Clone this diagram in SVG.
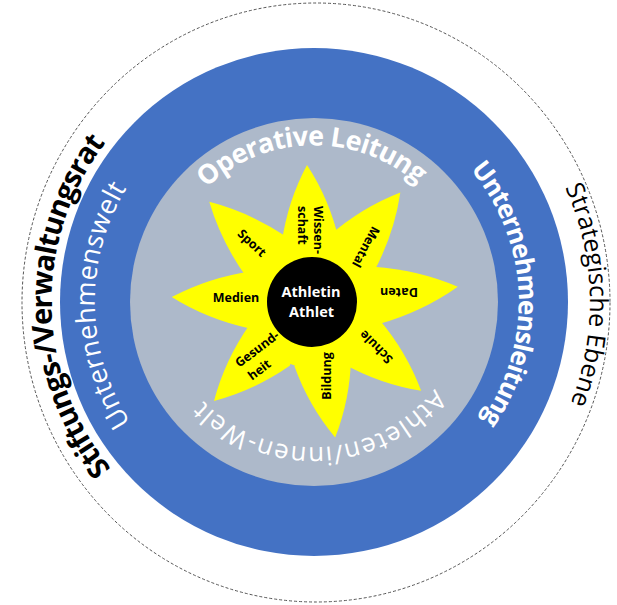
<svg xmlns="http://www.w3.org/2000/svg" xmlns:xlink="http://www.w3.org/1999/xlink" width="617" height="605" viewBox="0 0 617 605">
<style>
.ring{font-family:"Open Sans","Liberation Sans",sans-serif}
.wb{fill:#fff;font-weight:700}
.wr{fill:#fff;font-weight:400}
.lbl{font-family:"Open Sans","Liberation Sans",sans-serif;font-size:12.5px;font-weight:700;fill:#000}
.ctr{font-family:"Open Sans","Liberation Sans",sans-serif;font-size:14.5px;font-weight:700;fill:#fff}
</style>
<defs>
<path id="pOp" d="M157.4,291.0 A157,157 0 0 1 470.1,285.6"/>
<path id="pAt" d="M466.9,307.3 A154,154 0 0 1 162.5,323.3"/>
<path id="pUl" d="M322.9,97.2 A205,205 0 0 1 340.8,505.2"/>
<path id="pUw" d="M298.7,520.5 A219,219 0 0 1 291.1,84.2"/>
<path id="pSt" d="M295.7,563.4 A262,262 0 0 1 286.6,41.4"/>
<path id="pSe" d="M330.9,26.5 A276,276 0 0 1 345.2,576.2"/>
<path id="petal" d="M0,0 L-28.7,-61.6 Q-21,-104 0,-140 Q21,-104 28.7,-61.6 Z"/>
</defs>
<rect width="617" height="605" fill="#fff"/>
<g id="strategic">
<ellipse cx="316" cy="302.5" rx="294" ry="299.5" fill="none" stroke="#555" stroke-width="1" stroke-dasharray="3 2"/>
<text class="ring" font-size="29" font-weight="700" fill="#000"><textPath xlink:href="#pSt" href="#pSt" startOffset="50%" text-anchor="middle" textLength="352" lengthAdjust="spacing">Stiftungs-/Verwaltungsrat</textPath></text>
<text class="ring" font-size="25" font-weight="400" fill="#000"><textPath xlink:href="#pSe" href="#pSe" startOffset="50%" text-anchor="middle" textLength="222" lengthAdjust="spacing">Strategische Ebene</textPath></text>
</g>
<g id="company">
<circle cx="314" cy="302" r="254" fill="#4472C4"/>
<text class="ring wb" font-size="26"><textPath xlink:href="#pUl" href="#pUl" startOffset="50%" text-anchor="middle" textLength="270" lengthAdjust="spacing">Unternehmensleitung</textPath></text>
<text class="ring wr" font-size="27"><textPath xlink:href="#pUw" href="#pUw" startOffset="50%" text-anchor="middle" textLength="247" lengthAdjust="spacing">Unternehmenswelt</textPath></text>
</g>
<g id="operative">
<circle cx="314" cy="302" r="184" fill="#ADB9CA"/>
<text class="ring wb" font-size="27"><textPath xlink:href="#pOp" href="#pOp" startOffset="50%" text-anchor="middle" textLength="232" lengthAdjust="spacing">Operative Leitung</textPath></text>
<text class="ring wr" font-size="26"><textPath xlink:href="#pAt" href="#pAt" startOffset="50%" text-anchor="middle" textLength="262" lengthAdjust="spacing">Athleten/innen-Welt</textPath></text>
</g>
<g id="flower" fill="#FFFF00">
<circle cx="313" cy="302" r="66"/>
<use href="#petal" transform="translate(313,302) rotate(-2.5) scale(1,0.98)"/>
<use href="#petal" transform="translate(313,302) rotate(38.6)"/>
<use href="#petal" transform="translate(313,302) rotate(84) scale(1,1.04)"/>
<use href="#petal" transform="translate(313,302) rotate(129.4)"/>
<use href="#petal" transform="translate(313,302) rotate(170.7) scale(1,0.98)"/>
<use href="#petal" transform="translate(313,302) rotate(225)"/>
<use href="#petal" transform="translate(313,302) rotate(272) scale(1,1.01)"/>
<use href="#petal" transform="translate(313,302) rotate(314) scale(1,1.03)"/>
</g>
<g id="labels">
<text class="lbl" transform="translate(318,206) rotate(90)" dy="0.35em">Wissen-</text>
<text class="lbl" transform="translate(302,206) rotate(90)" dy="0.35em">schaft</text>
<text class="lbl" transform="translate(366,247) rotate(118)" text-anchor="middle" dy="0.35em">Mental</text>
<text class="lbl" transform="translate(399,292) rotate(180)" text-anchor="middle" dy="0.35em">Daten</text>
<text class="lbl" transform="translate(376,347) rotate(225)" text-anchor="middle" dy="0.35em">Schule</text>
<text class="lbl" transform="translate(327,376) rotate(-90)" text-anchor="middle" dy="0.35em">Bildung</text>
<text class="lbl" transform="translate(257,349) rotate(-37)" text-anchor="middle" dy="0.35em">Gesund-</text>
<text class="lbl" transform="translate(257,349) rotate(-37)" x="-23" y="18" dy="0.35em">heit</text>
<text class="lbl" x="236" y="298" text-anchor="middle" dy="0.35em">Medien</text>
<text class="lbl" transform="translate(252,243) rotate(43)" text-anchor="middle" dy="0.35em">Sport</text>
</g>
<g id="athlete">
<circle cx="312" cy="302" r="45" fill="#000"/>
<text class="ctr" x="311" y="292" text-anchor="middle" dy="0.35em">Athletin</text>
<text class="ctr" x="311.5" y="312" text-anchor="middle" dy="0.35em">Athlet</text>
</g>
</svg>
